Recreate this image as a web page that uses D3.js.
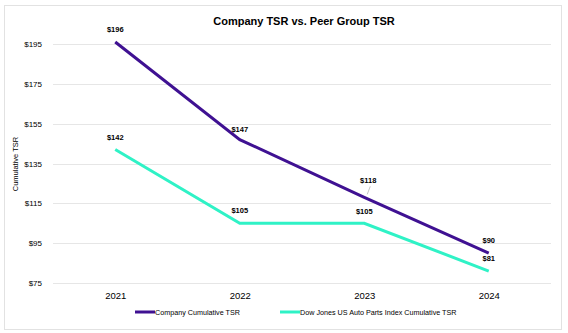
<!DOCTYPE html>
<html>
<head>
  <meta charset="utf-8" />
  <script src="https://d3js.org/d3.v7.min.js"></script>
  <style>
    body { margin: 0; background: #fff; }
    text { font-family: Arial, "Liberation Sans", sans-serif; fill: #000; }
  </style>
</head>
<body>
  <script>
    // chart data
    var years = ["2021", "2022", "2023", "2024"];
    var companyTSR = [196, 147, 118, 90];
    var peerTSR = [142, 105, 105, 81];
    var yTicks = [75, 95, 115, 135, 155, 175, 195];
    var seriesNames = ["Company Cumulative TSR", "Dow Jones US Auto Parts Index Cumulative TSR"];
    var seriesColors = ["#3f1192", "#2ff2c6"];

    var width = 568, height = 333;
    var margin = { left: 53, right: 17, top: 44, bottom: 50 };

    var svg = d3.select("body").append("svg")
      .attr("width", width)
      .attr("height", height);

    // outer frame
    svg.append("rect")
      .attr("x", 4.5).attr("y", 5.5)
      .attr("width", 557).attr("height", 324)
      .attr("fill", "#fff")
      .attr("stroke", "#e2e2e2");

    var x = d3.scalePoint()
      .domain(years)
      .range([margin.left, width - margin.right])
      .padding(0.5);

    var y = d3.scaleLinear()
      .domain([75, 195])
      .range([height - margin.bottom, margin.top]);

    // grid lines
    svg.append("g")
      .selectAll("line")
      .data(yTicks)
      .join("line")
      .attr("x1", margin.left).attr("x2", width - margin.right)
      .attr("y1", d => Math.round(y(d)) + 0.5)
      .attr("y2", d => Math.round(y(d)) + 0.5)
      .attr("stroke", "#e6e6e6");

    // y axis labels
    var yAxis = svg.append("g")
      .attr("transform", "translate(" + (margin.left - 8) + ",0)")
      .call(d3.axisLeft(y).tickValues(yTicks).tickSize(0).tickFormat(d => "$" + d));
    yAxis.select(".domain").remove();
    yAxis.selectAll("text")
      .attr("font-size", 8)
      .attr("fill", "#000");

    // x axis labels
    var xAxis = svg.append("g")
      .attr("transform", "translate(0," + (height - margin.bottom + 6) + ")")
      .call(d3.axisBottom(x).tickSize(0));
    xAxis.select(".domain").remove();
    xAxis.selectAll("text")
      .attr("font-size", 9.5)
      .attr("fill", "#000");

    // title
    svg.append("text")
      .attr("x", 304).attr("y", 25)
      .attr("text-anchor", "middle")
      .attr("font-size", 11)
      .attr("font-weight", "bold")
      .text("Company TSR vs. Peer Group TSR");

    // y axis title
    svg.append("text")
      .attr("transform", "translate(18,164) rotate(-90)")
      .attr("text-anchor", "middle")
      .attr("font-size", 7.5)
      .text("Cumulative TSR");

    var line = d3.line()
      .x((d, i) => x(years[i]))
      .y(d => y(d));

    var series = [companyTSR, peerTSR];

    svg.append("g")
      .selectAll("path")
      .data(series)
      .join("path")
      .attr("d", line)
      .attr("fill", "none")
      .attr("stroke", (d, i) => seriesColors[i])
      .attr("stroke-width", 3);

    // value labels, offsets per point
    var labelOffsets = [
      [-10, -8, -14, -10],
      [-10, -10, -9, -10]
    ];

    // leader line for the 2023 company label
    svg.append("line")
      .attr("x1", x("2023") + 3).attr("y1", y(companyTSR[2]) - 3)
      .attr("x2", x("2023") + 6).attr("y2", y(companyTSR[2]) - 11)
      .attr("stroke", "#aaa")
      .attr("stroke-width", 0.7);

    series.forEach(function (vals, s) {
      svg.append("g")
        .selectAll("text")
        .data(vals)
        .join("text")
        .attr("x", (d, i) => x(years[i]) + (i === 2 && s === 0 ? 4 : 0))
        .attr("y", (d, i) => y(d) + labelOffsets[s][i])
        .attr("text-anchor", "middle")
        .attr("font-size", 7.5)
        .attr("font-weight", "bold")
        .text(d => "$" + d);
    });

    // legend
    var legendItems = [
      { x: 135, w: 20 },
      { x: 280, w: 20 }
    ];
    var legend = svg.append("g");
    legendItems.forEach(function (it, i) {
      legend.append("line")
        .attr("x1", it.x).attr("x2", it.x + it.w)
        .attr("y1", 312).attr("y2", 312)
        .attr("stroke", seriesColors[i])
        .attr("stroke-width", 3);
      legend.append("text")
        .attr("x", it.x + it.w)
        .attr("y", 315)
        .attr("font-size", 7.2)
        .text(seriesNames[i]);
    });
  </script>
</body>
</html>
